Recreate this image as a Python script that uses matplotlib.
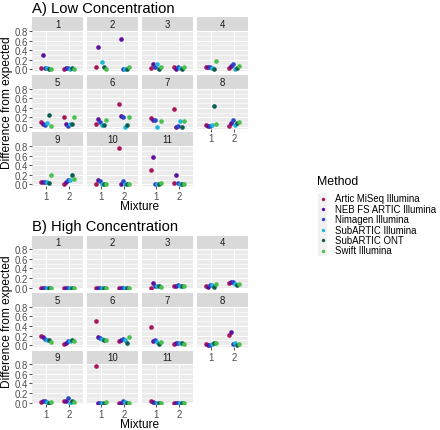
import numpy as np
import matplotlib
matplotlib.use('Agg')
import matplotlib.pyplot as plt
from matplotlib.patches import Rectangle

plt.rcParams['font.family'] = ['Liberation Sans', 'DejaVu Sans']

methods = ['Artic MiSeq Illumina', 'NEB FS ARTIC Illumina', 'Nimagen Illumina',
           'SubARTIC Illumina', 'SubARTIC ONT', 'Swift Illumina']
colors = ['#A8155A', '#5E0F9E', '#2747C8', '#1FB8DC', '#0B5D4E', '#4CBF4F']
mixtures = ['1', '2']
panels = [str(i) for i in range(1, 12)]
nan = np.nan

# values per panel, per method (order as in `methods`)
low_mix1 = [
    [0.02, 0.29, 0.02, 0.03, 0.00, 0.00],
    [0.05, 0.46, nan, 0.16, 0.04, 0.00],
    [0.03, 0.12, 0.05, 0.12, 0.00, 0.04],
    [0.04, 0.04, 0.04, 0.02, 0.00, 0.18],
    [0.10, 0.07, 0.035, 0.08, 0.26, 0.02],
    [0.06, 0.17, 0.10, 0.04, 0.05, 0.15],
    [0.19, 0.15, 0.14, 0.00, nan, 0.12],
    [0.05, 0.02, 0.01, 0.04, 0.45, 0.07],
    [0.04, 0.05, 0.055, 0.05, 0.03, 0.20],
    [0.015, 0.09, 0.06, 0.01, 0.01, 0.01],
    [0.30, 0.58, 0.00, 0.00, 0.01, 0.02],
]
low_mix2 = [
    [0.01, 0.03, 0.02, 0.00, 0.02, 0.00],
    [nan, 0.63, 0.00, 0.00, 0.01, 0.05],
    [0.04, 0.00, 0.05, 0.02, 0.01, 0.05],
    [0.02, 0.07, 0.11, 0.01, 0.03, 0.07],
    [0.20, 0.055, 0.03, 0.055, 0.07, 0.20],
    [0.49, 0.24, 0.22, 0.00, 0.04, 0.20],
    [0.37, 0.00, 0.02, 0.13, 0.00, 0.13],
    [0.02, 0.08, 0.14, 0.04, 0.08, 0.10],
    [0.015, 0.05, 0.08, 0.10, 0.20, 0.12],
    [0.77, 0.015, 0.07, 0.01, 0.01, 0.01],
    [0.035, 0.20, 0.035, 0.00, 0.01, 0.01],
]
high_mix1 = [
    [0.00, 0.00, 0.00, 0.00, 0.00, 0.00],
    [0.00, 0.00, 0.00, 0.00, 0.00, 0.00],
    [0.00, 0.10, 0.04, 0.04, 0.03, 0.02],
    [0.03, 0.01, 0.06, 0.05, 0.02, 0.07],
    [0.20, 0.17, 0.13, 0.11, 0.10, 0.06],
    [0.50, 0.17, 0.16, 0.14, 0.11, 0.10],
    [0.37, 0.085, 0.11, 0.07, 0.02, 0.06],
    [0.02, 0.015, 0.01, 0.03, 0.04, 0.055],
    [0.015, 0.04, 0.03, 0.02, 0.00, 0.015],
    [0.76, 0.00, 0.00, 0.00, 0.00, 0.015],
    [0.03, 0.01, 0.00, 0.00, 0.00, 0.00],
]
high_mix2 = [
    [0.00, 0.00, 0.00, 0.00, 0.00, 0.00],
    [0.00, 0.00, 0.00, 0.00, 0.00, 0.00],
    [0.03, 0.03, 0.06, 0.04, 0.03, 0.03],
    [0.10, 0.11, 0.12, 0.08, 0.05, 0.08],
    [0.03, 0.05, 0.09, 0.085, 0.10, 0.085],
    [0.09, 0.10, 0.13, 0.11, 0.05, 0.17],
    [0.035, 0.04, 0.055, 0.055, 0.055, 0.035],
    [0.21, 0.27, 0.02, 0.04, 0.00, 0.03],
    [0.04, 0.03, 0.09, 0.00, 0.03, 0.02],
    [0.00, 0.00, 0.04, 0.01, 0.00, 0.00],
    [0.00, 0.00, 0.00, 0.00, 0.00, 0.00],
]

W, H = 440, 431
fig = plt.figure(figsize=(W / 100, H / 100), dpi=100)


def rect(x0, top, w, h):
    return [x0 / W, 1 - (top + h) / H, w / W, h / H]


col_left = [32, 87, 142, 197]
panel_w = 51
strip_h = 13.5
panel_h = 40.3
row_top_A = [18.3, 76.0, 133.3]
offset_B = 218.3

BG = '#EBEBEB'
STRIP = '#D9D9D9'
TXT = '#4D4D4D'
tick_fs = 6.9
dodge_w = 0.5
n_m = len(methods)
offsets = [-dodge_w / 2 + dodge_w / n_m * (i + 0.5) for i in range(n_m)]


def draw_block(mix1, mix2, yoff, title):
    allv = np.array(mix1 + mix2, dtype=float)
    vmax = np.nanmax(allv)
    vmin = 0.0
    pad = (vmax - vmin) * 0.05
    ylim = (vmin - pad, vmax + pad)
    fig.text(32 / W, 1 - (12.7 + yoff) / H, title, fontsize=10.6,
             ha='left', va='baseline', color='black')
    for p in range(len(panels)):
        r, c = divmod(p, 4)
        top = row_top_A[r] + yoff
        x0 = col_left[c]
        # strip
        sax = fig.add_axes(rect(x0, top, panel_w, strip_h))
        sax.set_facecolor(STRIP)
        sax.set_xticks([]); sax.set_yticks([])
        for s in sax.spines.values():
            s.set_visible(False)
        sax.text(0.5, 0.5, panels[p], ha='center', va='center',
                 fontsize=tick_fs, color='#1A1A1A', transform=sax.transAxes)
        ax = fig.add_axes(rect(x0, top + strip_h, panel_w, panel_h))
        ax.set_facecolor(BG)
        for s in ax.spines.values():
            s.set_visible(False)
        ax.set_xlim(0.4, 2.6)
        ax.set_ylim(*ylim)
        ax.set_yticks([0, 0.2, 0.4, 0.6, 0.8])
        ax.set_yticks([0.1, 0.3, 0.5, 0.7], minor=True)
        ax.set_xticks([1, 2])
        ax.grid(True, which='major', color='white', lw=0.75)
        ax.grid(True, which='minor', axis='y', color='white', lw=0.4)
        ax.set_axisbelow(True)
        ax.tick_params(which='minor', length=0)
        ax.tick_params(which='major', length=2, width=0.6, color='#333333',
                       labelsize=tick_fs, labelcolor=TXT, pad=1.2)
        bottom_row = (r == 2) or (p + 4 >= len(panels))
        if not bottom_row:
            ax.tick_params(axis='x', length=0, labelbottom=False)
        else:
            ax.set_xticklabels(mixtures)
        if c != 0:
            ax.tick_params(axis='y', length=0, labelleft=False)
        else:
            ax.set_yticklabels(['0.0', '0.2', '0.4', '0.6', '0.8'])
        for m in range(n_m):
            xs = [1 + offsets[m], 2 + offsets[m]]
            ys = [mix1[p][m], mix2[p][m]]
            ax.scatter(xs, ys, s=11, color=colors[m], linewidths=0, zorder=3)
    fig.text(140 / W, 1 - (207 + yoff) / H, 'Mixture', fontsize=8.6,
             ha='center', va='center', color='black')
    fig.text(7.5 / W, 1 - (103 + yoff) / H, 'Difference from expected',
             fontsize=8.6, rotation=90, ha='center', va='center', color='black')


draw_block(low_mix1, low_mix2, 0, 'A) Low Concentration')
draw_block(high_mix1, high_mix2, offset_B, 'B) High Concentration')

# legend
lax = fig.add_axes([0, 0, 1, 1], zorder=-1)
lax.set_xlim(0, W); lax.set_ylim(H, 0)
lax.axis('off')
lax.text(317, 182, 'Method', fontsize=8.9, ha='left', va='center', color='black')
ky0 = 194.3
kh = 10.4
for i, (mname, col) in enumerate(zip(methods, colors)):
    yc = ky0 + kh * i + kh / 2
    lax.add_patch(Rectangle((318.3, ky0 + kh * i), 8.4, kh, facecolor='#F2F2F2',
                            edgecolor='none'))
    lax.scatter([322.5], [yc], s=6, color=col, linewidths=0)
    lax.text(335, yc, mname, fontsize=6.9, ha='left', va='center', color='black')

fig.savefig('out.png', dpi=100)
